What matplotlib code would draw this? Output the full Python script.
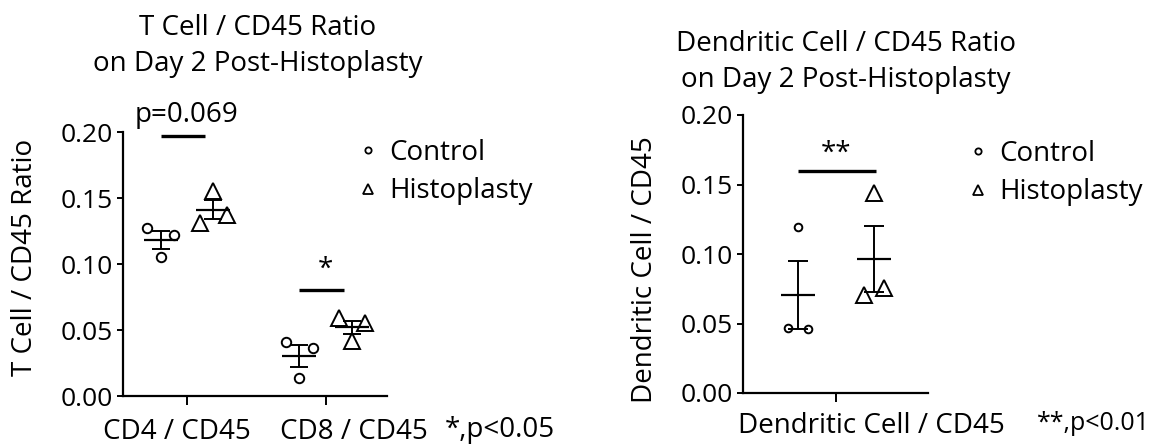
import numpy as np
import matplotlib as mpl
mpl.use("Agg")
from matplotlib import pyplot as plt
from matplotlib.lines import Line2D
from matplotlib.transforms import ScaledTranslation

mpl.rcParams["font.family"] = ["Open Sans", "DejaVu Sans"]
mpl.rcParams["font.size"] = 20

W, H = 1154, 447

# T cell / CD45 ratios (3 animals per group)
tcell_categories = ["CD4 / CD45", "CD8 / CD45"]
tcell_control = [[0.127, 0.105, 0.122], [0.041, 0.0136, 0.0364]]
tcell_histo = [[0.131, 0.155, 0.137], [0.059, 0.042, 0.055]]
tcell_sig_labels = ["p=0.069", "*"]
tcell_sig_heights = [0.197, 0.080]
tcell_note = "*,p<0.05"

# dendritic cell / CD45 ratios
dc_categories = ["Dendritic Cell / CD45"]
dc_control = [[0.0465, 0.1196, 0.046]]
dc_histo = [[0.0705, 0.1437, 0.0753]]
dc_sig_labels = ["**"]
dc_sig_heights = [0.160]
dc_note = "**,p<0.01"

yticks = [0.00, 0.05, 0.10, 0.15, 0.20]
group_labels = ["Control", "Histoplasty"]


def fig_xy(x, y):
    # pixel position (from top-left) -> figure fraction
    return x / W, 1 - y / H


def style_axis(ax, xpad):
    for side in ("top", "right"):
        ax.spines[side].set_visible(False)
    for side in ("left", "bottom"):
        ax.spines[side].set_linewidth(1.6)
    ax.set_ylim(0, 0.2)
    ax.set_yticks(yticks, [f"{t:.2f}" for t in yticks])
    ax.tick_params(axis="y", length=4.5, width=1.4, pad=3, labelsize=19)
    ax.tick_params(axis="x", length=6.5, width=1.4, pad=xpad, labelsize=20)


def draw_groups(ax, control, histo, offset, jitter, ms_circle, ms_tri, cap, mean_ms):
    for i, (c_vals, h_vals) in enumerate(zip(control, histo)):
        for vals, dx, marker, ms in ((c_vals, -offset, "o", ms_circle),
                                     (h_vals, offset, "^", ms_tri)):
            vals = np.asarray(vals)
            x0 = i + dx
            ax.plot(x0 + np.asarray(jitter), vals, ls="none", marker=marker, ms=ms,
                    mfc="white", mec="black", mew=1.4, zorder=2, clip_on=False)
            mean = vals.mean()
            sem = vals.std(ddof=1) / np.sqrt(len(vals))
            ax.errorbar(x0, mean, yerr=sem, fmt="none", ecolor="black",
                        elinewidth=1.4, capsize=cap, capthick=1.4, zorder=3)
            ax.plot(x0, mean, marker="_", ms=mean_ms, mew=1.6, color="black", zorder=3)


def draw_sig(ax, heights, labels, left, right, text_dy):
    for i, (h, lab) in enumerate(zip(heights, labels)):
        ax.plot([i + left, i + right], [h, h], color="black", lw=2.4,
                solid_capstyle="butt", clip_on=False)
        ax.annotate(lab, (i, h), xytext=(0, text_dy), textcoords="offset points",
                    ha="center", va="center", fontsize=20, annotation_clip=False)


def draw_legend(ax, left_px, mid_px):
    handles = [
        Line2D([], [], ls="none", marker="o", ms=4.5, mfc="white", mec="black", mew=1.3),
        Line2D([], [], ls="none", marker="^", ms=7.5, mfc="white", mec="black", mew=1.3),
    ]
    ax.legend(handles, group_labels, loc="center left",
              bbox_to_anchor=fig_xy(left_px, mid_px), bbox_transform=fig.transFigure,
              frameon=False, fontsize=20, handlelength=0.6, handletextpad=0.45,
              labelspacing=0.38, borderpad=0, borderaxespad=0)


def shift_ticklabels(ax, shifts_px):
    for lab, dx in zip(ax.get_xticklabels(), shifts_px):
        lab.set_transform(lab.get_transform()
                          + ScaledTranslation(dx / 100, 0, fig.dpi_scale_trans))


fig = plt.figure(figsize=(W / 100, H / 100), dpi=100)

# ---- left panel: T cells
ax1 = fig.add_axes([123 / W, 1 - 396 / H, 264 / W, 264 / H])
style_axis(ax1, xpad=9)
ax1.set_xlim(-0.46, 1.44)
ax1.set_xticks(range(len(tcell_categories)), tcell_categories)
shift_ticklabels(ax1, [-10, 28])
draw_groups(ax1, tcell_control, tcell_histo, 0.19, [-0.095, 0.0, 0.095],
            ms_circle=6.8, ms_tri=12, cap=6.8, mean_ms=24)
draw_sig(ax1, tcell_sig_heights, tcell_sig_labels, -0.19, 0.13, 15)
draw_legend(ax1, 359.6, 172)
fig.text(*fig_xy(258, 46), "T Cell / CD45 Ratio\non Day 2 Post-Histoplasty",
         ha="center", va="center", fontsize=20, linespacing=1.38)
fig.text(*fig_xy(25, 257), "T Cell / CD45 Ratio", rotation=90,
         ha="center", va="center", fontsize=20)
fig.text(*fig_xy(445, 430), tcell_note, ha="left", va="center", fontsize=20)

# ---- right panel: dendritic cells
ax2 = fig.add_axes([743 / W, 1 - 393 / H, 185 / W, 278 / H])
style_axis(ax2, xpad=7)
ax2.set_xlim(-2.46, 2.41)
ax2.set_xticks(range(len(dc_categories)), dc_categories)
shift_ticklabels(ax2, [35])
draw_groups(ax2, dc_control, dc_histo, 1.0, [-0.28, 0.0, 0.25],
            ms_circle=5.5, ms_tri=11, cap=7.5, mean_ms=25)
draw_sig(ax2, dc_sig_heights, dc_sig_labels, -1.0, 1.04, 12)
draw_legend(ax2, 970, 173)
fig.text(*fig_xy(846, 62), "Dendritic Cell / CD45 Ratio\non Day 2 Post-Histoplasty",
         ha="center", va="center", fontsize=20, linespacing=1.38)
fig.text(*fig_xy(645, 270), "Dendritic Cell / CD45", rotation=90,
         ha="center", va="center", fontsize=20)
fig.text(*fig_xy(1150, 424), dc_note, ha="right", va="center", fontsize=18)

fig.savefig("out.png", dpi=100)
plt.close(fig)
